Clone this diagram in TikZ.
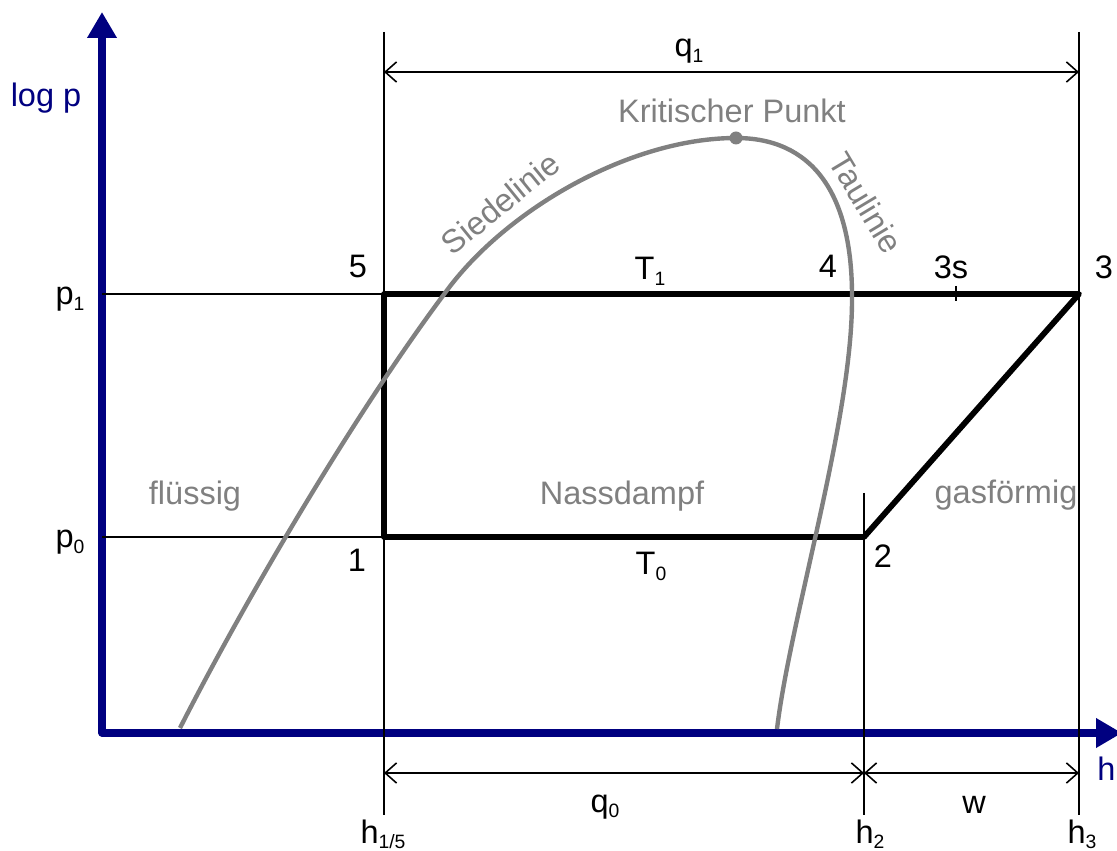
\documentclass[tikz,border=0pt]{standalone}
\usepackage{fontspec}
\setmainfont{Liberation Sans}
\usetikzlibrary{arrows.meta}
\definecolor{axisblue}{RGB}{0,0,128}
\definecolor{curvegray}{RGB}{128,128,128}
\newcommand\lsub[1]{\raisebox{-3pt}{\fontsize{11}{11}\selectfont #1}}
\begin{document}
\begin{tikzpicture}[x=0.02cm,y=-0.02cm,
  lbl/.style={font=\fontsize{18.5}{22}\selectfont, inner sep=0pt, anchor=base},
  glbl/.style={lbl, text=curvegray},
  blbl/.style={lbl, text=axisblue},
  thinln/.style={line width=1.1pt, black},
  dim/.style={line width=0.9pt, {Straight Barb[length=6.5pt,width=11.5pt]}-{Straight Barb[length=6.5pt,width=11.5pt]}},
  axis/.style={line width=4pt, axisblue, {Triangle[length=14.8pt,width=16pt]}-{Triangle[length=14.8pt,width=16pt]}, line join=round},
  cyc/.style={line width=3.3pt, line join=round, black},
  curve/.style={line width=2.5pt, curvegray},
]
\useasboundingbox (0,0) rectangle (1117,851);
% axes
\coordinate (ytip) at (102,12);
\coordinate (O) at (102,733);
\coordinate (xtip) at (1122,733);
\draw[axis] (ytip) -- (O) -- (xtip);
% vertical reference lines
\coordinate (h15t) at (384,32);  \coordinate (h15b) at (384,815);
\coordinate (h2t) at (864,493);  \coordinate (h2b) at (864,815);
\coordinate (h3t) at (1079,32);  \coordinate (h3b) at (1079,815);
\draw[thinln] (h15t) -- (h15b);
\draw[thinln] (h2t) -- (h2b);
\draw[thinln] (h3t) -- (h3b);
% pressure lines
\coordinate (P1) at (384,537);
\coordinate (P5) at (384,294);
\coordinate (P3) at (1079,294);
\coordinate (P2) at (864,537);
\coordinate (p1a) at (102,294);
\coordinate (p0a) at (102,537);
\draw[thinln] (p1a) -- (P5);
\draw[thinln] (p0a) -- (P1);
% dimension lines
\coordinate (q1a) at (384,72);  \coordinate (q1b) at (1079,72);
\coordinate (q0a) at (384,773); \coordinate (q0b) at (864,773);
\coordinate (wb) at (1079,773);
\draw[dim] (q1a) -- (q1b);
\draw[dim] (q0a) -- (q0b);
\draw[dim] (q0b) -- (wb);
% cycle
\draw[cyc] (P1) -- (P5) -- (P3) -- (P2) -- cycle;
\coordinate (t3s) at (956,286); \coordinate (b3s) at (956,301);
\draw[thinln] (t3s) -- (b3s);
% saturation curve
\coordinate (KP) at (736,138);
\coordinate (sA) at (180,728);
\coordinate (sB) at (445,293);
\coordinate (tC) at (852,300);
\coordinate (tD) at (777,729);
\draw[curve] (sA) .. controls (240,610) and (350,420) .. (sB)
  .. controls (505,210) and (630,138) .. (KP)
  .. controls (810,138) and (853,190) .. (tC)
  .. controls (852,420) and (790,620) .. (tD);
\fill[curvegray] (KP) circle (3.7pt);
% labels
\node[blbl] (logp) at (46,107) {log p};
\node[blbl, anchor=base west] (hax) at (1097,780) {h};
\node[lbl] (lp1) at (70,305) {p\lsub{1}};
\node[lbl] (lp0) at (70,548) {p\lsub{0}};
\node[lbl] (n5) at (358,278) {5};
\node[lbl] (T1) at (650,280) {T\lsub{1}};
\node[lbl] (n4) at (828,278) {4};
\node[lbl] (n3s) at (951,279) {3s};
\node[lbl] (n3) at (1104,279) {3};
\node[lbl] (n1) at (357,572) {1};
\node[lbl] (T0) at (651,575) {T\lsub{0}};
\node[lbl] (n2) at (883,567) {2};
\node[glbl] (fl) at (195,505) {flüssig};
\node[glbl] (nd) at (622,505) {Nassdampf};
\node[glbl] (gf) at (1006,503) {gasförmig};
\node[glbl] (kp) at (732,123) {Kritischer Punkt};
\node[glbl, rotate=39, anchor=center] (sl) at (500,203) {Siedelinie};
\node[glbl, rotate=-59, anchor=center] (tl) at (866,203) {Taulinie};
\node[lbl] (lq1) at (689,57) {q\lsub{1}};
\node[lbl] (lq0) at (605,812) {q\lsub{0}};
\node[lbl] (lw) at (974,813) {w};
\node[lbl] (lh15) at (383,843) {h\lsub{1/5}};
\node[lbl] (lh2) at (870,843) {h\lsub{2}};
\node[lbl] (lh3) at (1082,843) {h\lsub{3}};
\end{tikzpicture}
\end{document}
